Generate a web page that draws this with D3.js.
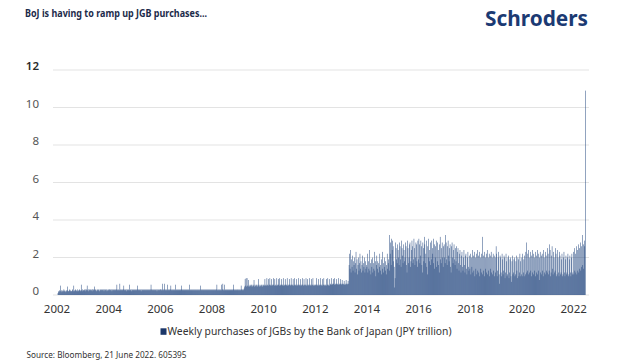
<!DOCTYPE html>
<html><head><meta charset="utf-8">
<script src="https://cdn.jsdelivr.net/npm/d3@7"></script>
<style>html,body{margin:0;padding:0;background:#fff;}svg{display:block;font-family:"Noto Sans","Open Sans",sans-serif;}</style>
</head><body>
<svg id="c" width="624" height="360"></svg>
<script>
const titleText = "BoJ is having to ramp up JGB purchases...";
const brandText = "Schroders";
const legendLabel = "Weekly purchases of JGBs by the Bank of Japan (JPY trillion)";
const sourceText = "Source: Bloomberg, 21 June 2022. 605395";
const yTicks = [0, 2, 4, 6, 8, 10, 12];
const xTickYears = [2002, 2004, 2006, 2008, 2010, 2012, 2014, 2016, 2018, 2020, 2022];
const lastWeek = "2022-06-17";
// Weekly purchases (JPY trillion), oldest first, one row block per year
const weeklyPurchases = [
// 2002
0.1,0.2,0.15,0.25,0.2,0.5,0.2,0.25,0.15,0.2,0.25,0.2,0.3,
0.2,0.25,0.2,0.15,0.25,0.2,0.45,0.25,0.2,0.2,0.25,0.3,0.2,
0.25,0.2,0.2,0.3,0.25,0.2,0.5,0.25,0.2,0.3,0.25,0.2,0.25,0.2,
0.3,0.25,0.2,0.25,0.3,0.2,0.25,0.55,0.25,0.2,0.3,0.25,
// 2003
0.25,0.3,0.25,0.2,0.3,0.25,0.3,0.5,0.25,0.3,0.2,0.3,0.25,
0.3,0.25,0.3,0.25,0.2,0.3,0.3,0.25,0.3,0.45,0.25,0.3,0.25,
0.2,0.3,0.25,0.3,0.25,0.3,0.2,0.25,0.3,0.25,0.3,0.25,0.3,
0.25,0.3,0.2,0.3,0.25,0.3,0.25,0.3,0.2,0.25,0.3,0.25,0.3,
// 2004
0.3,0.25,0.3,0.25,0.3,0.2,0.3,0.25,0.3,0.25,0.3,0.25,0.3,
0.25,0.3,0.55,0.25,0.3,0.25,0.3,0.25,0.6,0.3,0.25,0.3,0.25,
0.3,0.25,0.3,0.5,0.25,0.3,0.25,0.3,0.2,0.3,0.25,0.3,0.25,
0.3,0.55,0.25,0.3,0.25,0.3,0.2,0.3,0.25,0.3,0.25,0.3,0.25,
// 2005
0.3,0.25,0.3,0.25,0.3,0.5,0.25,0.3,0.25,0.3,0.25,0.3,0.2,
0.3,0.25,0.3,0.25,0.3,0.25,0.3,0.25,0.3,0.25,0.3,0.25,0.3,
0.25,0.3,0.25,0.3,0.25,0.3,0.55,0.3,0.25,0.3,0.25,0.3,0.25,
0.3,0.25,0.3,0.25,0.3,0.2,0.3,0.25,0.3,0.25,0.3,0.25,0.3,
// 2006
0.3,0.25,0.3,0.6,0.25,0.3,0.25,0.6,0.3,0.25,0.3,0.25,0.3,
0.55,0.25,0.3,0.25,0.3,0.25,0.3,0.5,0.25,0.3,0.25,0.3,0.25,
0.3,0.25,0.3,0.55,0.25,0.3,0.25,0.3,0.25,0.3,0.25,0.3,0.25,
0.3,0.25,0.3,0.5,0.25,0.3,0.25,0.3,0.25,0.3,0.25,0.3,0.25,
// 2007
0.3,0.25,0.3,0.25,0.3,0.25,0.55,0.3,0.25,0.3,0.25,0.3,0.25,
0.3,0.25,0.3,0.25,0.3,0.25,0.3,0.25,0.3,0.25,0.3,0.25,0.3,
0.25,0.3,0.5,0.25,0.3,0.25,0.3,0.25,0.3,0.25,0.3,0.25,0.3,
0.25,0.3,0.25,0.3,0.25,0.3,0.25,0.3,0.25,0.3,0.25,0.3,0.25,
// 2008
0.3,0.25,0.3,0.25,0.3,0.25,0.3,0.25,0.3,0.55,0.25,0.3,0.25,
0.3,0.25,0.3,0.25,0.3,0.55,0.25,0.3,0.6,0.25,0.3,0.55,0.25,
0.3,0.25,0.3,0.25,0.3,0.25,0.3,0.25,0.3,0.25,0.3,0.25,0.3,
0.25,0.3,0.25,0.3,0.55,0.25,0.3,0.25,0.3,0.25,0.3,0.25,0.3,
// 2009
0.3,0.25,0.3,0.25,0.3,0.25,0.5,0.3,0.25,0.3,0.25,0.3,0.35,
0.45,0.85,0.5,0.9,0.45,0.9,0.5,0.45,0.8,0.5,0.45,0.55,0.5,
0.45,0.55,0.5,0.45,0.55,0.5,0.8,0.45,0.55,0.5,0.45,0.55,0.5,
0.45,0.55,0.85,0.5,0.45,0.55,0.5,0.45,0.55,0.5,0.45,0.55,0.5,
// 2010
0.55,0.5,0.85,0.5,0.55,0.5,0.9,0.55,0.5,0.85,0.5,0.55,0.9,
0.5,0.55,0.85,0.5,0.55,0.5,0.9,0.55,0.5,0.85,0.5,0.55,0.5,
0.9,0.55,0.5,0.85,0.55,0.5,0.9,0.55,0.5,0.55,0.85,0.5,0.55,
0.9,0.5,0.55,0.5,0.85,0.55,0.5,0.55,0.9,0.5,0.55,0.5,0.55,
// 2011
0.85,0.55,0.5,0.9,0.55,0.5,0.55,0.85,0.5,0.55,0.9,0.5,0.55,
0.5,0.85,0.55,0.5,0.55,0.9,0.5,0.55,0.5,0.85,0.55,0.5,0.55,
0.9,0.55,0.5,0.85,0.55,0.5,0.55,0.9,0.5,0.55,0.85,0.5,0.55,
0.5,0.9,0.55,0.5,0.55,0.85,0.5,0.55,0.9,0.5,0.55,0.5,0.55,
// 2012
0.55,0.5,0.9,0.55,0.5,0.55,0.85,0.5,0.55,0.5,0.9,0.55,0.5,
0.55,0.85,0.5,0.55,0.9,0.5,0.55,0.5,0.55,0.85,0.5,0.55,0.9,
0.5,0.55,0.5,0.85,0.55,0.6,0.9,0.55,0.6,0.55,0.85,0.6,0.55,
0.9,0.6,0.55,0.6,0.85,0.55,0.6,0.55,0.9,0.6,0.55,0.6,0.85,
// 2013
0.6,0.55,0.8,0.6,0.55,0.6,0.75,0.55,0.6,0.55,0.8,0.6,0.55,
0.6,0.75,0.6,1.6,2.2,1.4,2.4,1.2,1.9,1.5,2.1,1.3,1.8,
1.6,2.0,1.2,1.7,2.3,1.4,1.9,1.1,1.6,2.0,1.3,1.7,2.2,
1.4,1.8,1.2,1.6,2.1,1.3,1.7,1.5,2.0,1.2,1.8,1.4,1.6,
// 2014
1.5,2.2,1.2,1.8,1.4,2.4,1.3,1.7,1.1,1.9,1.5,2.0,1.2,
1.7,1.4,2.3,1.3,1.8,1.0,1.6,2.1,1.4,1.8,1.2,1.7,1.5,
2.2,1.3,1.6,1.1,1.9,1.4,2.3,1.2,1.7,1.5,2.0,1.3,1.8,
1.1,1.6,2.2,1.4,1.7,1.9,1.3,3.2,2.2,2.8,1.6,3.0,2.4,
// 2015
2.9,2.6,1.8,1.5,0.4,0.9,2.8,2.5,1.9,1.7,2.7,2.4,2.0,
1.6,2.8,2.6,1.9,1.5,2.9,2.5,2.1,1.7,2.7,2.4,1.8,2.0,
2.8,2.6,1.6,1.2,2.9,2.5,1.7,2.0,2.7,2.8,1.5,1.8,2.4,
2.9,2.6,1.7,1.9,3.0,2.5,1.6,2.0,2.8,2.7,1.8,1.5,2.9,
// 2016
1.9,3.0,2.7,1.7,2.1,2.9,2.6,1.6,1.2,2.8,2.5,1.8,3.1,
2.7,1.7,2.2,2.9,1.5,1.1,2.6,3.0,2.0,1.8,2.4,2.8,1.6,
1.9,2.9,2.5,2.2,1.7,3.0,2.7,1.4,2.0,2.6,2.9,1.5,1.8,
2.8,2.4,1.6,1.2,2.7,3.1,1.9,1.7,2.5,2.8,2.0,1.5,2.6,
// 2017
2.7,2.0,1.7,3.2,2.8,1.9,1.6,2.6,2.9,2.1,1.8,2.5,2.7,
1.5,1.2,2.6,2.8,2.0,1.7,2.4,2.7,1.9,1.6,2.5,1.8,2.6,
1.4,2.3,2.5,1.7,1.3,2.2,2.4,1.6,1.2,2.1,2.3,1.5,1.3,
2.0,2.4,1.6,1.2,2.1,2.2,1.4,1.1,2.0,2.3,1.5,1.3,2.1,
// 2018
1.4,2.2,1.1,2.0,1.5,2.4,1.2,2.1,1.3,2.3,1.0,2.0,1.4,
2.2,1.1,2.4,1.3,2.1,1.2,2.3,1.0,2.0,1.4,2.2,1.2,3.1,
1.1,2.1,1.3,2.3,1.0,2.0,1.4,2.2,1.2,2.4,1.1,2.0,1.3,
2.2,1.0,2.1,1.4,2.3,1.2,2.0,1.1,2.2,1.3,2.1,1.0,2.0,
// 2019
1.2,2.6,2.2,1.0,1.3,2.0,2.3,1.1,0.6,2.1,2.0,1.2,1.0,
2.2,1.9,1.1,1.3,2.1,2.0,0.9,1.2,2.2,1.8,1.0,1.1,2.0,
2.1,0.9,1.2,1.9,2.0,1.0,0.7,1.8,2.1,1.1,1.2,1.9,2.0,
1.0,1.1,1.8,2.1,1.3,0.9,2.0,1.9,1.0,1.2,2.2,1.8,1.0,
// 2020
1.1,2.0,2.2,1.0,1.2,1.9,2.1,1.0,1.1,2.3,2.8,1.2,1.3,
2.2,2.4,1.1,1.2,2.0,2.3,1.3,1.0,2.1,2.4,1.2,1.1,2.2,
2.0,1.3,1.0,2.3,2.1,1.2,1.1,2.4,2.2,1.3,0.8,2.0,2.3,
1.2,1.1,2.1,2.2,1.3,1.0,2.4,2.0,1.2,1.1,2.3,2.1,1.3,
// 2021
1.2,2.5,2.2,1.1,1.3,2.7,2.4,1.0,1.2,2.1,2.6,1.4,1.1,
2.3,2.0,1.2,1.3,2.5,2.2,1.0,1.1,2.4,2.0,1.2,1.0,2.3,
2.1,1.1,1.2,1.9,2.2,1.0,1.1,2.0,2.3,1.2,1.0,1.9,2.1,
1.1,1.2,2.0,2.2,1.0,1.1,1.9,2.1,1.2,1.0,2.0,2.2,1.1,
// 2022
1.2,2.3,1.1,2.5,1.3,2.2,1.2,2.6,1.1,2.4,1.3,2.7,1.2,
2.5,1.4,2.8,1.3,2.6,1.5,3.2,1.6,2.7,1.4,2.9,2.6,10.9
];

const svg = d3.select("#c");
const DAY = 864e5;
const endDate = new Date(lastWeek + "T00:00:00");
const n = weeklyPurchases.length;
const data = weeklyPurchases.map((v, i) => ({date: new Date(endDate.getTime() - (n - 1 - i) * 7 * DAY), value: v}));

const x = d3.scaleTime()
  .domain([new Date(2002, 0, 1), new Date(endDate.getTime() + 7 * DAY)])
  .range([56.5, 585.5]);
const y = d3.scaleLinear().domain([0, 12]).range([295, 70]);

// gridlines
svg.append("g").selectAll("line").data(yTicks).join("line")
  .attr("x1", 53).attr("x2", 589)
  .attr("y1", d => y(d)).attr("y2", d => y(d))
  .attr("stroke", "#e3e3e3").attr("stroke-width", 1);

// y labels
svg.append("g").selectAll("text").data(yTicks).join("text")
  .attr("x", 39).attr("y", d => y(d))
  .attr("text-anchor", "end")
  .attr("font-size", 11.5)
  .attr("font-weight", d => d === 12 ? 600 : 400)
  .attr("fill", d => d === 12 ? "#2a2a2a" : "#555")
  .text(d => d);

// bars
const bw = 0.5;
svg.append("g").selectAll("rect").data(data).join("rect")
  .attr("x", d => x(d.date))
  .attr("width", bw)
  .attr("y", d => y(d.value))
  .attr("height", d => y(0) - y(d.value))
  .attr("fill", "#23467f");

// x axis labels
const xa = svg.append("g").attr("transform", `translate(0,${y(0)})`)
  .call(d3.axisBottom(x)
    .tickValues(xTickYears.map(yr => new Date(yr, 0, 1)))
    .tickFormat(d3.timeFormat("%Y"))
    .tickSize(0));
xa.select(".domain").remove();
xa.selectAll("text")
  .attr("y", 18).attr("dy", null)
  .attr("font-size", 11.5)
  .attr("font-family", "Noto Sans, sans-serif")
  .attr("fill", "#333");

// title
svg.append("text").attr("x", 25).attr("y", 17.3)
  .attr("font-size", 10.5).attr("font-weight", 700).attr("fill", "#1c2b4a")
  .attr("textLength", 182).attr("lengthAdjust", "spacingAndGlyphs")
  .text(titleText);

// brand
svg.append("text").attr("x", 485).attr("y", 26)
  .attr("font-size", 21).attr("font-weight", 700).attr("fill", "#1b3a73")
  .attr("textLength", 103).attr("lengthAdjust", "spacingAndGlyphs")
  .text(brandText);

// legend
svg.append("rect").attr("x", 160.5).attr("y", 328.3).attr("width", 6).attr("height", 6.5).attr("fill", "#1b3668");
svg.append("text").attr("x", 167.5).attr("y", 335.2)
  .attr("font-size", 10.5).attr("fill", "#333")
  .attr("textLength", 284).attr("lengthAdjust", "spacingAndGlyphs")
  .text(legendLabel);

// source
svg.append("text").attr("x", 26.5).attr("y", 357.5)
  .attr("font-size", 9).attr("fill", "#333")
  .attr("textLength", 160).attr("lengthAdjust", "spacingAndGlyphs")
  .text(sourceText);
</script>
</body></html>
